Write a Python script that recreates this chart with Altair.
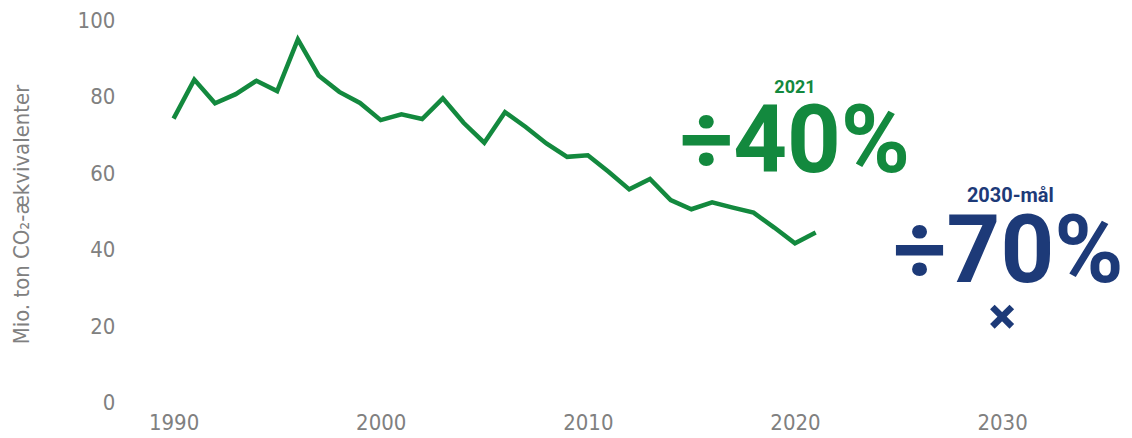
import altair as alt
import pandas as pd

years = list(range(1990, 2022))
emissions = [74.3, 84.5, 78.3, 80.7, 84.2, 81.5, 95.0, 85.6, 81.3, 78.4,
             73.9, 75.4, 74.2, 79.6, 73.2, 68.0, 76.0, 72.1, 67.8, 64.3,
             64.7, 60.4, 55.8, 58.5, 53.0, 50.6, 52.4, 51.0, 49.7, 45.8,
             41.7, 44.5]
target_year = [2030]
target_value = [22.5]

ann_text = ["2021", "÷40%", "2030-mål", "÷70%"]
ann_x = [2020.0, 2020.0, 2030.4, 2030.3]
ann_y = [80.9, 60.3, 52.5, 31.6]
ann_group = ["g_small", "g_big", "n_small", "n_big"]

GREEN = "#13893e"
NAVY = "#1d3a78"
GREY = "#808080"
FONT = "Roboto"
NARROW = "'Liberation Sans Narrow', 'DejaVu Sans Condensed', Roboto"

df = pd.DataFrame({"year": years, "value": emissions})
tg = pd.DataFrame({"year": target_year, "value": target_value})
ann = pd.DataFrame({"text": ann_text, "year": ann_x, "value": ann_y, "g": ann_group})

xs = alt.Scale(domain=[1987.5, 2035.5], nice=False, zero=False)
ys = alt.Scale(domain=[0, 100], nice=False)

x_axis = alt.Axis(values=[1990, 2000, 2010, 2020, 2030], format="d", title=None,
                  labelFont=NARROW, labelFontSize=22, labelColor=GREY, labelPadding=10,
                  domain=False, ticks=False, grid=False)
y_axis = alt.Axis(values=[0, 20, 40, 60, 80, 100], title="Mio. ton CO₂-ækvivalenter",
                  labelFont=NARROW, labelFontSize=22, labelColor=GREY, labelPadding=7,
                  titleFont=NARROW, titleFontSize=22, titleFontWeight="normal", titleColor=GREY,
                  titleX=-100, titleY=194, titleAngle=270, titleBaseline="middle",
                  titleAlign="center",
                  domain=False, ticks=False, grid=False)

line = alt.Chart(df).mark_line(color=GREEN, strokeWidth=4.5, strokeJoin="miter").encode(
    x=alt.X("year:Q", scale=xs, axis=x_axis),
    y=alt.Y("value:Q", scale=ys, axis=y_axis),
)

cross = alt.Chart(tg).mark_point(
    shape="M-1,-1L1,1M-1,1L1,-1", filled=False, stroke=NAVY, strokeWidth=6.5,
    size=380, opacity=1
).encode(x=alt.X("year:Q", scale=xs), y=alt.Y("value:Q", scale=ys))

def text_layer(group, color, size):
    return alt.Chart(ann).transform_filter(alt.datum.g == group).mark_text(
        font=FONT, fontWeight="bold", fontSize=size, color=color,
        align="center", baseline="alphabetic"
    ).encode(x=alt.X("year:Q", scale=xs), y=alt.Y("value:Q", scale=ys), text="text:N")

chart = alt.layer(
    line, cross,
    text_layer("g_small", GREEN, 18),
    text_layer("g_big", GREEN, 94),
    text_layer("n_small", NAVY, 20),
    text_layer("n_big", NAVY, 94),
).properties(
    width=996, height=383,
    autosize=alt.AutoSizeParams(type="none"),
    padding={"left": 114, "top": 12, "right": 8, "bottom": 34},
).configure_view(stroke=None)

chart.save("out.html", embed_options={"renderer": "svg", "actions": False})
